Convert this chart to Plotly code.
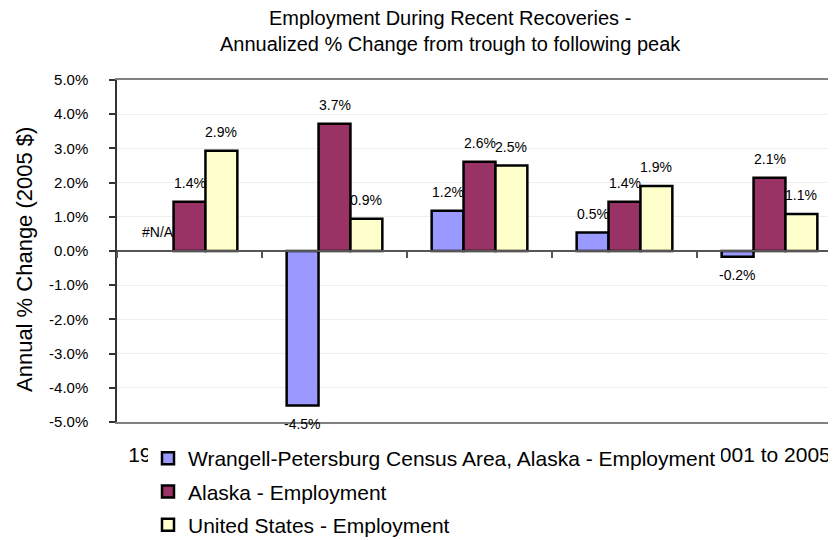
import plotly.graph_objects as go

categories = ["1975 to 1979", "1980 to 1981", "1982 to 1990", "1991 to 2000", "2001 to 2005"]
series_names = [
    "Wrangell-Petersburg Census Area, Alaska - Employment",
    "Alaska - Employment",
    "United States - Employment",
]
wrangell = [None, -4.52, 1.18, 0.54, -0.17]
alaska = [1.44, 3.72, 2.61, 1.44, 2.14]
us = [2.93, 0.94, 2.50, 1.90, 1.08]
colors = ["#9999FF", "#993366", "#FFFFCC"]
y_ticks = [-5, -4, -3, -2, -1, 0, 1, 2, 3, 4, 5]
title_text = "Employment During Recent Recoveries -<br>Annualized % Change from trough to following peak"
y_title = "Annual % Change (2005 $)"

FONT = "Arial, Liberation Sans, sans-serif"
# the page body has an 8px default margin, so the figure is drawn 8px in
OFF = 8
W, H = 836 - OFF, 540 - OFF
PLOT_L, PLOT_T, PLOT_B = 117, 80, 422          # page pixels
ML, MT = PLOT_L - OFF, PLOT_T - OFF
MR, MB = 0, H - (PLOT_B - OFF)
PW, PH = W - ML - MR, H - MT - MB
BARGAP = 0.34
CAT_PX = 145.0


def px_to_paper_y(py):
    return (PLOT_B - py) / PH


def px_to_paper_x(px):
    return (px - PLOT_L) / PW


fig = go.Figure()
all_series = [wrangell, alaska, us]
for i, (name, vals, col) in enumerate(zip(series_names, all_series, colors)):
    fig.add_trace(go.Bar(
        x=categories, y=vals, name=name,
        marker=dict(color=col, line=dict(color="#000000", width=2.5)),
        legendgroup=f"g{i}",
        hoverinfo="x+y+name",
    ))

# invisible helper trace so that the bottom category axis is drawn
fig.add_trace(go.Scatter(x=categories, y=[0] * len(categories), xaxis="x2",
                         mode="markers", marker=dict(opacity=0),
                         showlegend=False, hoverinfo="skip"))

# data labels
bw = (1 - BARGAP) / 3
annotations = []
for j, vals in enumerate(all_series):
    for i, v in enumerate(vals):
        if v is None:
            txt, yv, shift = "#N/A", 0, 19
        else:
            txt, yv = f"{v:.1f}%", v
            shift = 19 if v >= 0 else -18
        annotations.append(dict(
            x=i + (j - 1) * bw, y=yv, xref="x", yref="y", text=txt,
            showarrow=False, yshift=shift, xanchor="center", yanchor="middle",
            font=dict(family=FONT, size=14, color="#000000"),
        ))

# y axis title
annotations.append(dict(
    x=px_to_paper_x(24), y=px_to_paper_y(260), xref="paper", yref="paper",
    text=y_title, textangle=-90,
    showarrow=False, xanchor="center", yanchor="middle",
    font=dict(family=FONT, size=22, color="#000000"),
))

# chart title
annotations.append(dict(
    x=px_to_paper_x(450), y=px_to_paper_y(31), xref="paper", yref="paper",
    text=title_text, showarrow=False, xanchor="center", yanchor="middle",
    align="center",
    font=dict(family=FONT, size=20, color="#000000"),
))

x_range = [-0.5, -0.5 + PW / CAT_PX]

fig.update_layout(
    width=W, height=H,
    margin=dict(l=ML, r=MR, t=MT, b=MB, pad=0, autoexpand=False),
    paper_bgcolor="white", plot_bgcolor="white",
    barmode="group", bargap=BARGAP, bargroupgap=0,
    font=dict(family=FONT, color="#000000"),
    xaxis=dict(
        type="category", categoryorder="array", categoryarray=categories,
        range=x_range, anchor="free", position=0.5, automargin=False,
        showline=True, linecolor="#555555", linewidth=1.5,
        tickson="boundaries", ticks="outside", ticklen=6, tickwidth=1.5,
        tickcolor="#555555", showticklabels=False, showgrid=False,
        zeroline=False, fixedrange=True,
    ),
    xaxis2=dict(
        type="category", categoryorder="array", categoryarray=categories,
        range=x_range, overlaying="x", anchor="y", side="bottom",
        automargin=False,
        showline=True, mirror=True, linecolor="#808080", linewidth=2,
        ticks="", showgrid=False, zeroline=False,
        tickfont=dict(family=FONT, size=21, color="#000000"),
        ticklabelstandoff=13,
    ),
    yaxis=dict(
        range=[-5, 5], tickvals=y_ticks, automargin=False,
        ticktext=[f"{t:.1f}%" for t in y_ticks],
        showline=True, linecolor="#333333", linewidth=1.5,
        ticks="outside", ticklen=6, tickwidth=1.5, tickcolor="#333333",
        showgrid=True, gridcolor="#EEEEEE", gridwidth=1,
        zeroline=False, ticklabelstandoff=18,
        tickfont=dict(family=FONT, size=15, color="#000000"),
    ),
    legend=dict(
        x=px_to_paper_x(148), xanchor="left",
        y=px_to_paper_y(438), yanchor="top",
        bgcolor="white", borderwidth=0,
        font=dict(family=FONT, size=21, color="#000000"),
        traceorder="grouped", tracegroupgap=3,
    ),
    annotations=annotations,
    showlegend=True,
)

fig.write_html("out.html")
